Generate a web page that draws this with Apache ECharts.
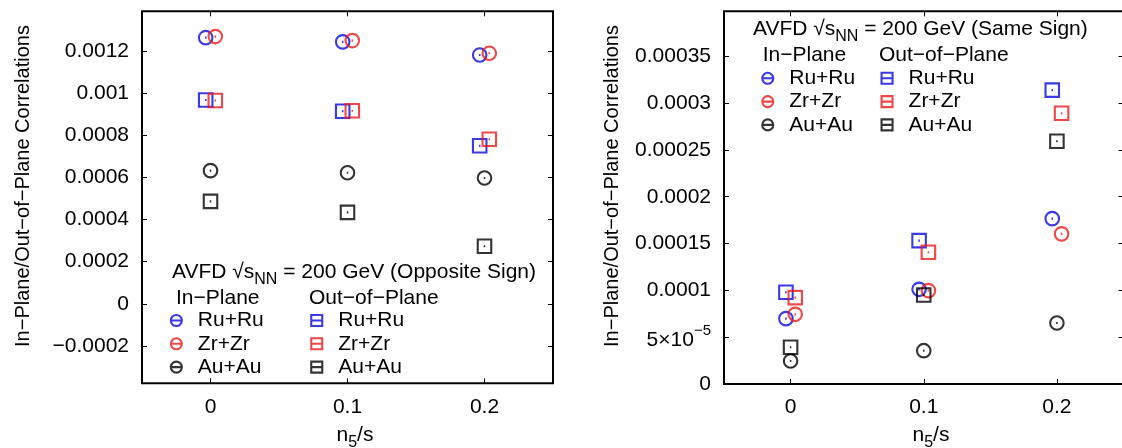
<!DOCTYPE html>
<html>
<head>
<meta charset="utf-8">
<script src="https://cdn.jsdelivr.net/npm/echarts@6/dist/echarts.min.js"></script>
<style>html,body{margin:0;padding:0;background:#fff}#c{width:1122px;height:448px}</style>
</head>
<body>
<div id="c"></div>
<script>
// ---------- data ----------
const n5s = [0, 0.1, 0.2];
// Opposite sign (left panel)
const osInRu  = [0.001263, 0.001243, 0.001181];
const osInZr  = [0.001268, 0.001249, 0.001189];
const osInAu  = [0.000632, 0.000622, 0.000597];
const osOutRu = [0.000967, 0.000914, 0.000750];
const osOutZr = [0.000965, 0.000916, 0.000781];
const osOutAu = [0.000486, 0.000434, 0.000273];
// Same sign (right panel)
const ssInRu  = [0.0000698, 0.0001011, 0.0001766];
const ssInZr  = [0.0000744, 0.0000997, 0.0001603];
const ssInAu  = [0.0000246, 0.0000356, 0.0000652];
const ssOutRu = [0.0000979, 0.0001531, 0.0003138];
const ssOutZr = [0.0000922, 0.0001407, 0.0002892];
const ssOutAu = [0.0000392, 0.0000951, 0.0002593];
const systems = ['Ru+Ru', 'Zr+Zr', 'Au+Au'];
const yTitle = 'In\u2212Plane/Out\u2212of\u2212Plane Correlations';
const osTitle = 'Opposite Sign';
const ssTitle = 'Same Sign';

// ---------- style ----------
const FONT = 'Liberation Sans';
const FS = 21;
const BLUE = '#0808e0', RED = '#ec1a1a', BLACK = '#000000';
const colors = [BLUE, RED, BLACK];
const offsets = [-0.0035, 0.0035, 0];
const CIRC = 'path://M0,6A6,6 0 1,1 12,6A6,6 0 1,1 0,6Z M5.3,6H6.7';
const SQ = 'path://M0,0H12V12H0Z M5.3,6H6.7';
const LCIRC = 'path://M0,5A5,5 0 1,1 10,5A5,5 0 1,1 0,5Z M0,5H10';
const LSQ = 'path://M0,0H10V10H0Z M0,5H10';

function mkSeries(prefix, kind, arrs, xi, yi) {
  return arrs.map((ys, k) => ({
    type: 'scatter', name: prefix + kind + k, xAxisIndex: xi, yAxisIndex: yi,
    symbol: kind === 'in' ? CIRC : SQ, symbolSize: 13.5,
    itemStyle: { color: 'rgba(0,0,0,0)', borderColor: colors[k], borderWidth: 2.1 },
    silent: true,
    data: n5s.map((x, i) => [x + offsets[k], ys[i]])
  }));
}
const series = [].concat(
  mkSeries('L', 'in', [osInRu, osInZr, osInAu], 0, 0),
  mkSeries('L', 'out', [osOutRu, osOutZr, osOutAu], 0, 0),
  mkSeries('R', 'in', [ssInRu, ssInZr, ssInAu], 2, 2),
  mkSeries('R', 'out', [ssOutRu, ssOutZr, ssOutAu], 2, 2)
);

function mkLegend(prefix, kind, left, top) {
  return {
    orient: 'vertical', left: left, top: top, padding: 0, itemGap: 2.3,
    itemWidth: 11, itemHeight: 11, selectedMode: false,
    data: [0, 1, 2].map(k => ({
      name: prefix + kind + k,
      icon: kind === 'in' ? LCIRC : LSQ,
      itemStyle: { color: 'rgba(0,0,0,0)', borderColor: colors[k], borderWidth: 2.1 }
    })),
    formatter: name => systems[+name.slice(-1)],
    textStyle: { fontFamily: FONT, fontSize: FS, color: '#000', lineHeight: 21, padding: [0, 0, 0, 11] }
  };
}

const tick = { show: true, inside: true, length: 5, lineStyle: { color: '#000', width: 1 } };
const lblStyle = { fontFamily: FONT, fontSize: FS, color: '#000' };
function xAx(gi, bottom) {
  return {
    type: 'value', gridIndex: gi, position: bottom ? 'bottom' : 'top',
    min: -0.05, max: 0.25, minInterval: 0.1, maxInterval: 0.1, splitNumber: 3,
    axisLine: { show: false, onZero: false }, axisTick: tick, splitLine: { show: false },
    axisLabel: bottom ? Object.assign({ margin: 13, showMinLabel: false, showMaxLabel: false,
      formatter: v => String(v) }, lblStyle) : { show: false }
  };
}
function yAx(gi, left, min, max, step, fmt) {
  return {
    type: 'value', gridIndex: gi, position: left ? 'left' : 'right',
    min: min, max: max, minInterval: step, maxInterval: step, splitNumber: 9,
    axisLine: { show: false, onZero: false }, axisTick: tick, splitLine: { show: false },
    axisLabel: left ? Object.assign({ margin: 13, showMinLabel: min === 0, showMaxLabel: false,
      formatter: fmt, rich: {
        m: { fontFamily: FONT, fontSize: FS, color: '#000', lineHeight: 21, verticalAlign: 'bottom' },
        s: { fontFamily: FONT, fontSize: 15, color: '#000', lineHeight: 28, verticalAlign: 'top' }
      } }, lblStyle) : { show: false }
  };
}
const fmtL = v => String(+v.toPrecision(6)).replace('-', '\u2212');
const fmtR = v => {
  if (Math.abs(v - 0.00005) < 1e-9) return '{m|5\u00d710}{s|\u22125}';
  return String(+v.toPrecision(6));
};

const richSub = {
  m: { fontFamily: FONT, fontSize: FS, color: '#000', lineHeight: 21, verticalAlign: 'middle' },
  sub: { fontFamily: FONT, fontSize: 16, color: '#000', lineHeight: 31, verticalAlign: 'bottom' }
};
function headline(x, y, sign) {
  return { type: 'text', x: x, y: y, silent: true,
    style: { text: '{m|AVFD \u221as}{sub|NN}{m| = 200 GeV (' + sign + ')}', rich: richSub } };
}
function xTitleEl(cx) {
  return {
    type: 'text', x: cx, y: 420, silent: true,
    style: { text: '{m|n}{sub|5}{m|/s}', rich: richSub, align: 'center', textAlign: 'center' }
  };
}
function yTitleEl(cx, cy) {
  return {
    type: 'text', x: cx, y: cy, rotation: Math.PI / 2, silent: true,
    style: { text: yTitle, fill: '#000', fontFamily: FONT, fontSize: 20,
      align: 'center', verticalAlign: 'middle', textAlign: 'center', textVerticalAlign: 'middle' }
  };
}
function plain(x, y, s) {
  return { type: 'text', x: x, y: y, silent: true,
    style: { text: s, fill: '#000', fontFamily: FONT, fontSize: FS } };
}

const chart = echarts.init(document.getElementById('c'), null, { renderer: 'canvas' });
chart.setOption({
  backgroundColor: '#fff',
  animation: false,
  grid: [
    { left: 142, top: 11.3, width: 411, height: 372, show: true, borderColor: '#000', borderWidth: 2,
      backgroundColor: 'rgba(0,0,0,0)', outerBoundsMode: 'none', containLabel: false },
    { left: 724, top: 11.3, width: 399.5, height: 372.7, show: true, borderColor: '#000', borderWidth: 2,
      backgroundColor: 'rgba(0,0,0,0)', outerBoundsMode: 'none', containLabel: false }
  ],
  xAxis: [xAx(0, true), xAx(0, false), xAx(1, true), xAx(1, false)],
  yAxis: [
    yAx(0, true, -0.000377, 0.001388, 0.0002, fmtL),
    yAx(0, false, -0.000377, 0.001388, 0.0002, fmtL),
    yAx(1, true, 0, 0.000398, 0.00005, fmtR),
    yAx(1, false, 0, 0.000398, 0.00005, fmtR)
  ],
  legend: [
    mkLegend('L', 'in', 169.8, 310),
    mkLegend('L', 'out', 310.2, 310),
    mkLegend('R', 'in', 761.2, 67.8),
    mkLegend('R', 'out', 880.5, 67.8)
  ],
  graphic: [
    headline(172, 257, osTitle),
    plain(176, 287.5, 'In\u2212Plane'),
    plain(309, 287.5, 'Out\u2212of\u2212Plane'),
    headline(753, 14, ssTitle),
    plain(762.7, 44.5, 'In\u2212Plane'),
    plain(879, 44.5, 'Out\u2212of\u2212Plane'),
    xTitleEl(355),
    xTitleEl(931),
    yTitleEl(23, 186),
    yTitleEl(612, 186)
  ],
  series: series
});
</script>
</body>
</html>
